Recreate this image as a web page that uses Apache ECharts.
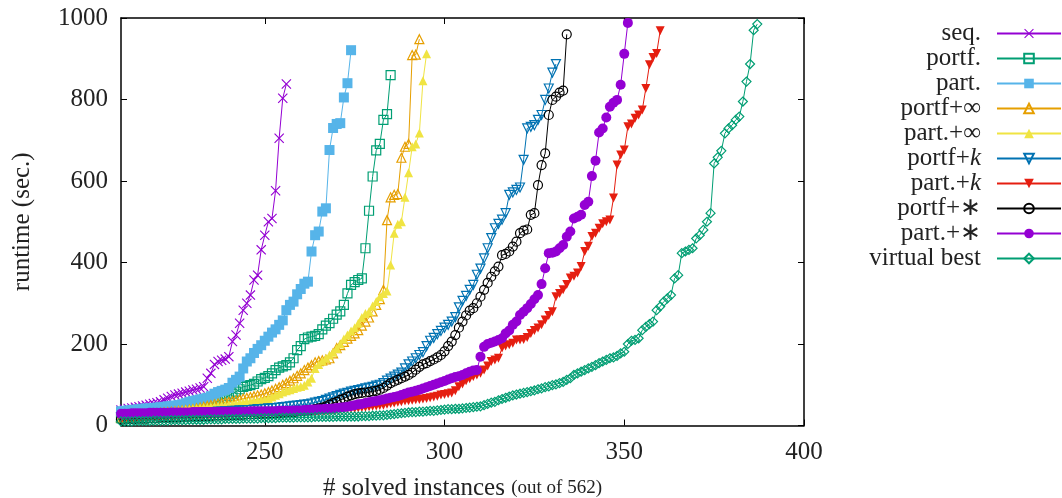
<!DOCTYPE html>
<html><head><meta charset="utf-8">
<script src="https://cdn.jsdelivr.net/npm/echarts@6/dist/echarts.min.js"></script>
<style>html,body{margin:0;padding:0;background:#fff}#c{width:1062px;height:498px}</style>
</head><body><div id="c"></div>
<script>
// Cactus plot: runtime of the k-th solved instance; every array starts at rank FIRST_RANK.
const FIRST_RANK = 210;
const xTicks = [250, 300, 350, 400];
const seqY = [
  38,40,42,43,45,46,48,50,52,54,
  56,58,63,67,71,75,77,79,82,84,
  87,89,92,95,116,128,150,157,160,163,
  169,206,222,251,283,300,320,357,369,431,
  467,500,508,576,705,803,838];
const portfY = [
  18,19,20,21,22,23,24,25,26,27,
  28,29,30,31,32,33,34,36,37,39,
  41,43,45,47,50,53,57,60,64,68,
  73,78,83,89,95,97,99,102,108,114,
  117,121,128,136,142,145,148,155,165,185,
  195,212,216,218,220,224,236,245,251,262,
  272,280,296,324,345,352,357,361,435,527,
  611,675,691,750,764,860];
const partY = [
  35,36,37,38,39,40,41,42,42,43,
  44,45,46,47,48,49,50,52,55,58,
  60,62,64,66,68,72,78,82,85,88,
  92,105,112,120,140,157,165,178,188,197,
  208,218,228,236,247,258,283,296,304,322,
  335,348,353,427,467,476,525,533,676,730,
  740,742,805,840,921];
const portfInfY = [
  20,21,22,23,24,25,26,27,28,29,
  30,31,32,33,34,35,36,37,38,39,
  40,42,44,46,48,50,52,54,55,57,
  58,60,62,64,66,68,70,72,74,76,
  79,82,86,90,94,100,104,110,116,122,
  128,136,142,148,155,158,160,162,165,177,
  190,197,205,213,220,226,234,245,255,265,
  280,296,310,333,504,560,566,568,657,684,
  691,909,910,948];
const partInfY = [
  22,23,24,25,26,27,27,28,29,30,
  31,32,33,34,35,36,37,38,39,40,
  41,42,43,44,45,46,47,48,49,50,
  51,52,54,56,57,58,59,60,61,62,
  63,66,70,74,78,82,85,88,91,94,
  96,99,107,116,140,150,158,165,173,180,
  189,200,212,222,232,240,251,265,275,280,
  293,304,316,324,330,394,472,494,500,560,
  620,684,691,718,846,912];
const portfKY = [
  20,21,21,22,22,23,23,24,24,25,
  25,26,26,27,27,28,28,29,29,30,
  30,31,31,32,32,33,33,34,34,35,
  35,36,36,37,37,38,38,39,40,40,
  41,42,42,43,44,45,46,47,48,49,
  50,51,52,54,56,58,60,63,66,69,
  72,75,78,80,83,85,87,89,91,93,
  95,98,100,104,110,115,120,125,130,140,
  150,157,165,173,180,195,208,215,224,232,
  240,247,255,266,290,306,318,333,345,370,
  385,410,435,460,484,495,505,521,566,572,
  578,584,652,729,733,737,750,762,799,827,
  866,887];
const partKY = [
  14,14,15,15,15,16,16,16,17,17,
  17,18,18,18,19,19,19,20,20,20,
  21,21,21,22,22,22,23,23,23,24,
  24,24,25,25,25,26,26,26,27,27,
  27,28,28,28,29,29,29,30,30,30,
  31,32,33,33,34,35,36,36,37,38,
  39,40,40,41,42,42,43,44,45,46,
  47,48,49,50,52,54,55,57,58,60,
  61,62,63,64,65,66,68,70,72,75,
  76,78,80,85,95,102,110,115,120,124,
  128,136,146,157,161,165,190,195,198,202,
  210,210,211,216,226,233,239,247,259,270,
  279,316,324,333,346,362,366,374,390,427,
  440,464,472,484,495,500,504,558,639,664,
  676,733,740,754,762,774,827,885,903,913,
  969];
const portfStarY = [
  15,15,16,16,16,17,17,17,18,18,
  18,19,19,19,20,20,20,21,21,21,
  22,22,22,23,23,23,24,24,24,25,
  25,25,26,26,26,27,27,27,28,28,
  29,29,30,30,31,31,32,33,33,34,
  35,36,37,38,40,42,44,47,51,55,
  58,63,66,71,74,77,79,80,81,82,
  84,85,88,92,98,104,108,112,116,120,
  124,130,137,144,150,153,158,162,167,173,
  182,195,206,222,240,255,270,282,288,300,
  316,333,350,365,378,390,418,421,427,439,
  451,472,478,481,517,521,590,639,668,762,
  799,807,817,822,960];
const partStarY = [
  29,29,29,30,30,30,30,30,31,31,
  31,31,31,31,32,32,32,32,32,32,
  33,33,33,33,33,33,33,33,34,34,
  34,34,34,34,34,34,35,35,35,35,
  35,35,35,35,36,36,36,36,37,37,
  37,38,38,39,39,40,40,41,41,42,
  43,44,45,46,48,50,52,53,55,57,
  59,60,62,64,66,68,70,72,75,78,
  81,83,85,88,91,94,97,100,103,106,
  109,113,116,119,121,124,128,132,135,136,
  169,193,200,203,206,210,214,226,233,247,
  255,271,279,288,298,310,320,347,386,423,
  424,427,435,443,463,476,508,512,517,541,
  549,612,650,719,729,756,782,792,799,836,
  912,988];
const vbestY = [
  10,10,10,10,11,11,11,11,11,12,
  12,12,12,12,13,13,13,13,13,14,
  14,14,14,14,15,15,15,15,15,16,
  16,16,16,16,17,17,17,17,17,18,
  18,18,18,18,19,19,19,19,19,20,
  20,20,20,20,21,21,21,21,21,21,
  22,22,22,22,22,22,22,23,23,23,
  24,24,25,25,26,27,28,29,30,31,
  32,33,33,34,34,35,36,36,37,38,
  39,40,40,41,41,42,43,44,45,46,
  47,50,53,56,58,62,65,68,71,74,
  76,78,80,82,84,86,89,91,94,96,
  99,101,104,107,112,116,124,128,132,136,
  140,144,148,153,157,161,165,167,171,177,
  181,200,208,210,214,234,242,249,255,283,
  292,304,312,320,361,369,423,427,431,435,
  459,467,480,500,521,643,658,674,717,729,
  737,750,758,795,844,887,970,985];

const FONT = 'Liberation Serif';
const XPATH = 'path://M0,0.8L0.8,0L5,4.2L9.2,0L10,0.8L5.8,5L10,9.2L9.2,10L5,5.8L0.8,10L0,9.2L4.2,5Z';
const ranked = ys => ys.map((y, i) => [FIRST_RANK + i, y]);

function mk(name, ys, color, symbol, size, hollow, rotate){
  return {
    name, type:'line', data: ranked(ys), symbol, symbolSize:size, symbolRotate: rotate||0,
    lineStyle:{color, width:1},
    itemStyle: hollow ? {color:'rgba(255,255,255,0)', borderColor:color, borderWidth:1.2} : {color, borderColor:color, borderWidth:0},
    emphasis:{disabled:true}, animation:false, clip:true
  };
}
const series = [
  mk('seq.', seqY, '#9400d3', XPATH, 10, false),
  mk('portf.', portfY, '#009e73', 'rect', 9, true),
  mk('part.', partY, '#56b4e9', 'rect', 10, false),
  mk('portf+∞', portfInfY, '#e69f00', 'triangle', 9, true),
  mk('part.+∞', partInfY, '#f0e442', 'triangle', 9, false),
  mk('portf+k', portfKY, '#0072b2', 'triangle', 9, true, 180),
  mk('part.+k', partKY, '#e51e10', 'triangle', 9, false, 180),
  mk('portf+∗', portfStarY, '#000000', 'circle', 9, true),
  mk('part.+∗', partStarY, '#9400d3', 'circle', 10, false),
  mk('virtual best', vbestY, '#009e73', 'diamond', 9, true)
];
const legendFmt = {
  'portf+k':'{n|portf+}{i|k}',
  'part.+k':'{n|part.+}{i|k}'
};
const chart = echarts.init(document.getElementById('c'), null, {renderer:'canvas'});
chart.setOption({
  backgroundColor:'#fff',
  animation:false,
  textStyle:{fontFamily:FONT},
  grid:{left:121, right:258, top:18, bottom:72.5, show:false, containLabel:false, outerBoundsMode:'none'},
  legend:{
    orient:'vertical', align:'right', right:0, top:21, padding:0,
    itemWidth:64, itemHeight:12, itemGap:0,
    formatter: n => legendFmt[n] || ('{n|' + n + '}'),
    textStyle:{fontFamily:FONT, fontSize:25, color:'#222', padding:[0,11,0,0],
      rich:{n:{fontFamily:FONT, fontSize:25, lineHeight:20, color:'#222'},
            i:{fontFamily:FONT, fontSize:25, lineHeight:20, fontStyle:'italic', color:'#222'}}},
    selectedMode:false
  },
  xAxis:[{
    type:'value', min:210, max:400, position:'bottom',
    name:'{a|# solved instances }{b|(out of 562)}', nameLocation:'middle', nameGap:50,
    nameTextStyle:{rich:{a:{fontFamily:FONT, fontSize:25, color:'#222'}, b:{fontFamily:FONT, fontSize:19, color:'#222'}}},
    axisLine:{show:true, lineStyle:{color:'#000', width:1.5}},
    axisTick:{show:true, inside:true, length:6, customValues:xTicks, lineStyle:{color:'#000', width:1}},
    axisLabel:{customValues:xTicks, fontFamily:FONT, fontSize:25, color:'#222', margin:14},
    splitLine:{show:false}
  },{
    type:'value', min:210, max:400, position:'top',
    axisLine:{show:true, onZero:false, lineStyle:{color:'#000', width:1.5}},
    axisTick:{show:true, inside:true, length:6, customValues:xTicks, lineStyle:{color:'#000', width:1}},
    axisLabel:{show:false}, splitLine:{show:false}
  }],
  yAxis:[{
    type:'value', min:0, max:1000, interval:200, position:'left',
    name:'runtime (sec.)', nameLocation:'middle', nameGap:86,
    nameTextStyle:{fontFamily:FONT, fontSize:25, color:'#222'},
    axisLine:{show:true, lineStyle:{color:'#000', width:1.5}},
    axisTick:{show:true, inside:true, length:6, lineStyle:{color:'#000', width:1}},
    axisLabel:{fontFamily:FONT, fontSize:25, color:'#222', margin:13, formatter: v => String(v)},
    splitLine:{show:false}
  },{
    type:'value', min:0, max:1000, interval:200, position:'right',
    axisLine:{show:true, onZero:false, lineStyle:{color:'#000', width:1.5}},
    axisTick:{show:true, inside:true, length:6, lineStyle:{color:'#000', width:1}},
    axisLabel:{show:false}, splitLine:{show:false}
  }],
  series
});
</script></body></html>
